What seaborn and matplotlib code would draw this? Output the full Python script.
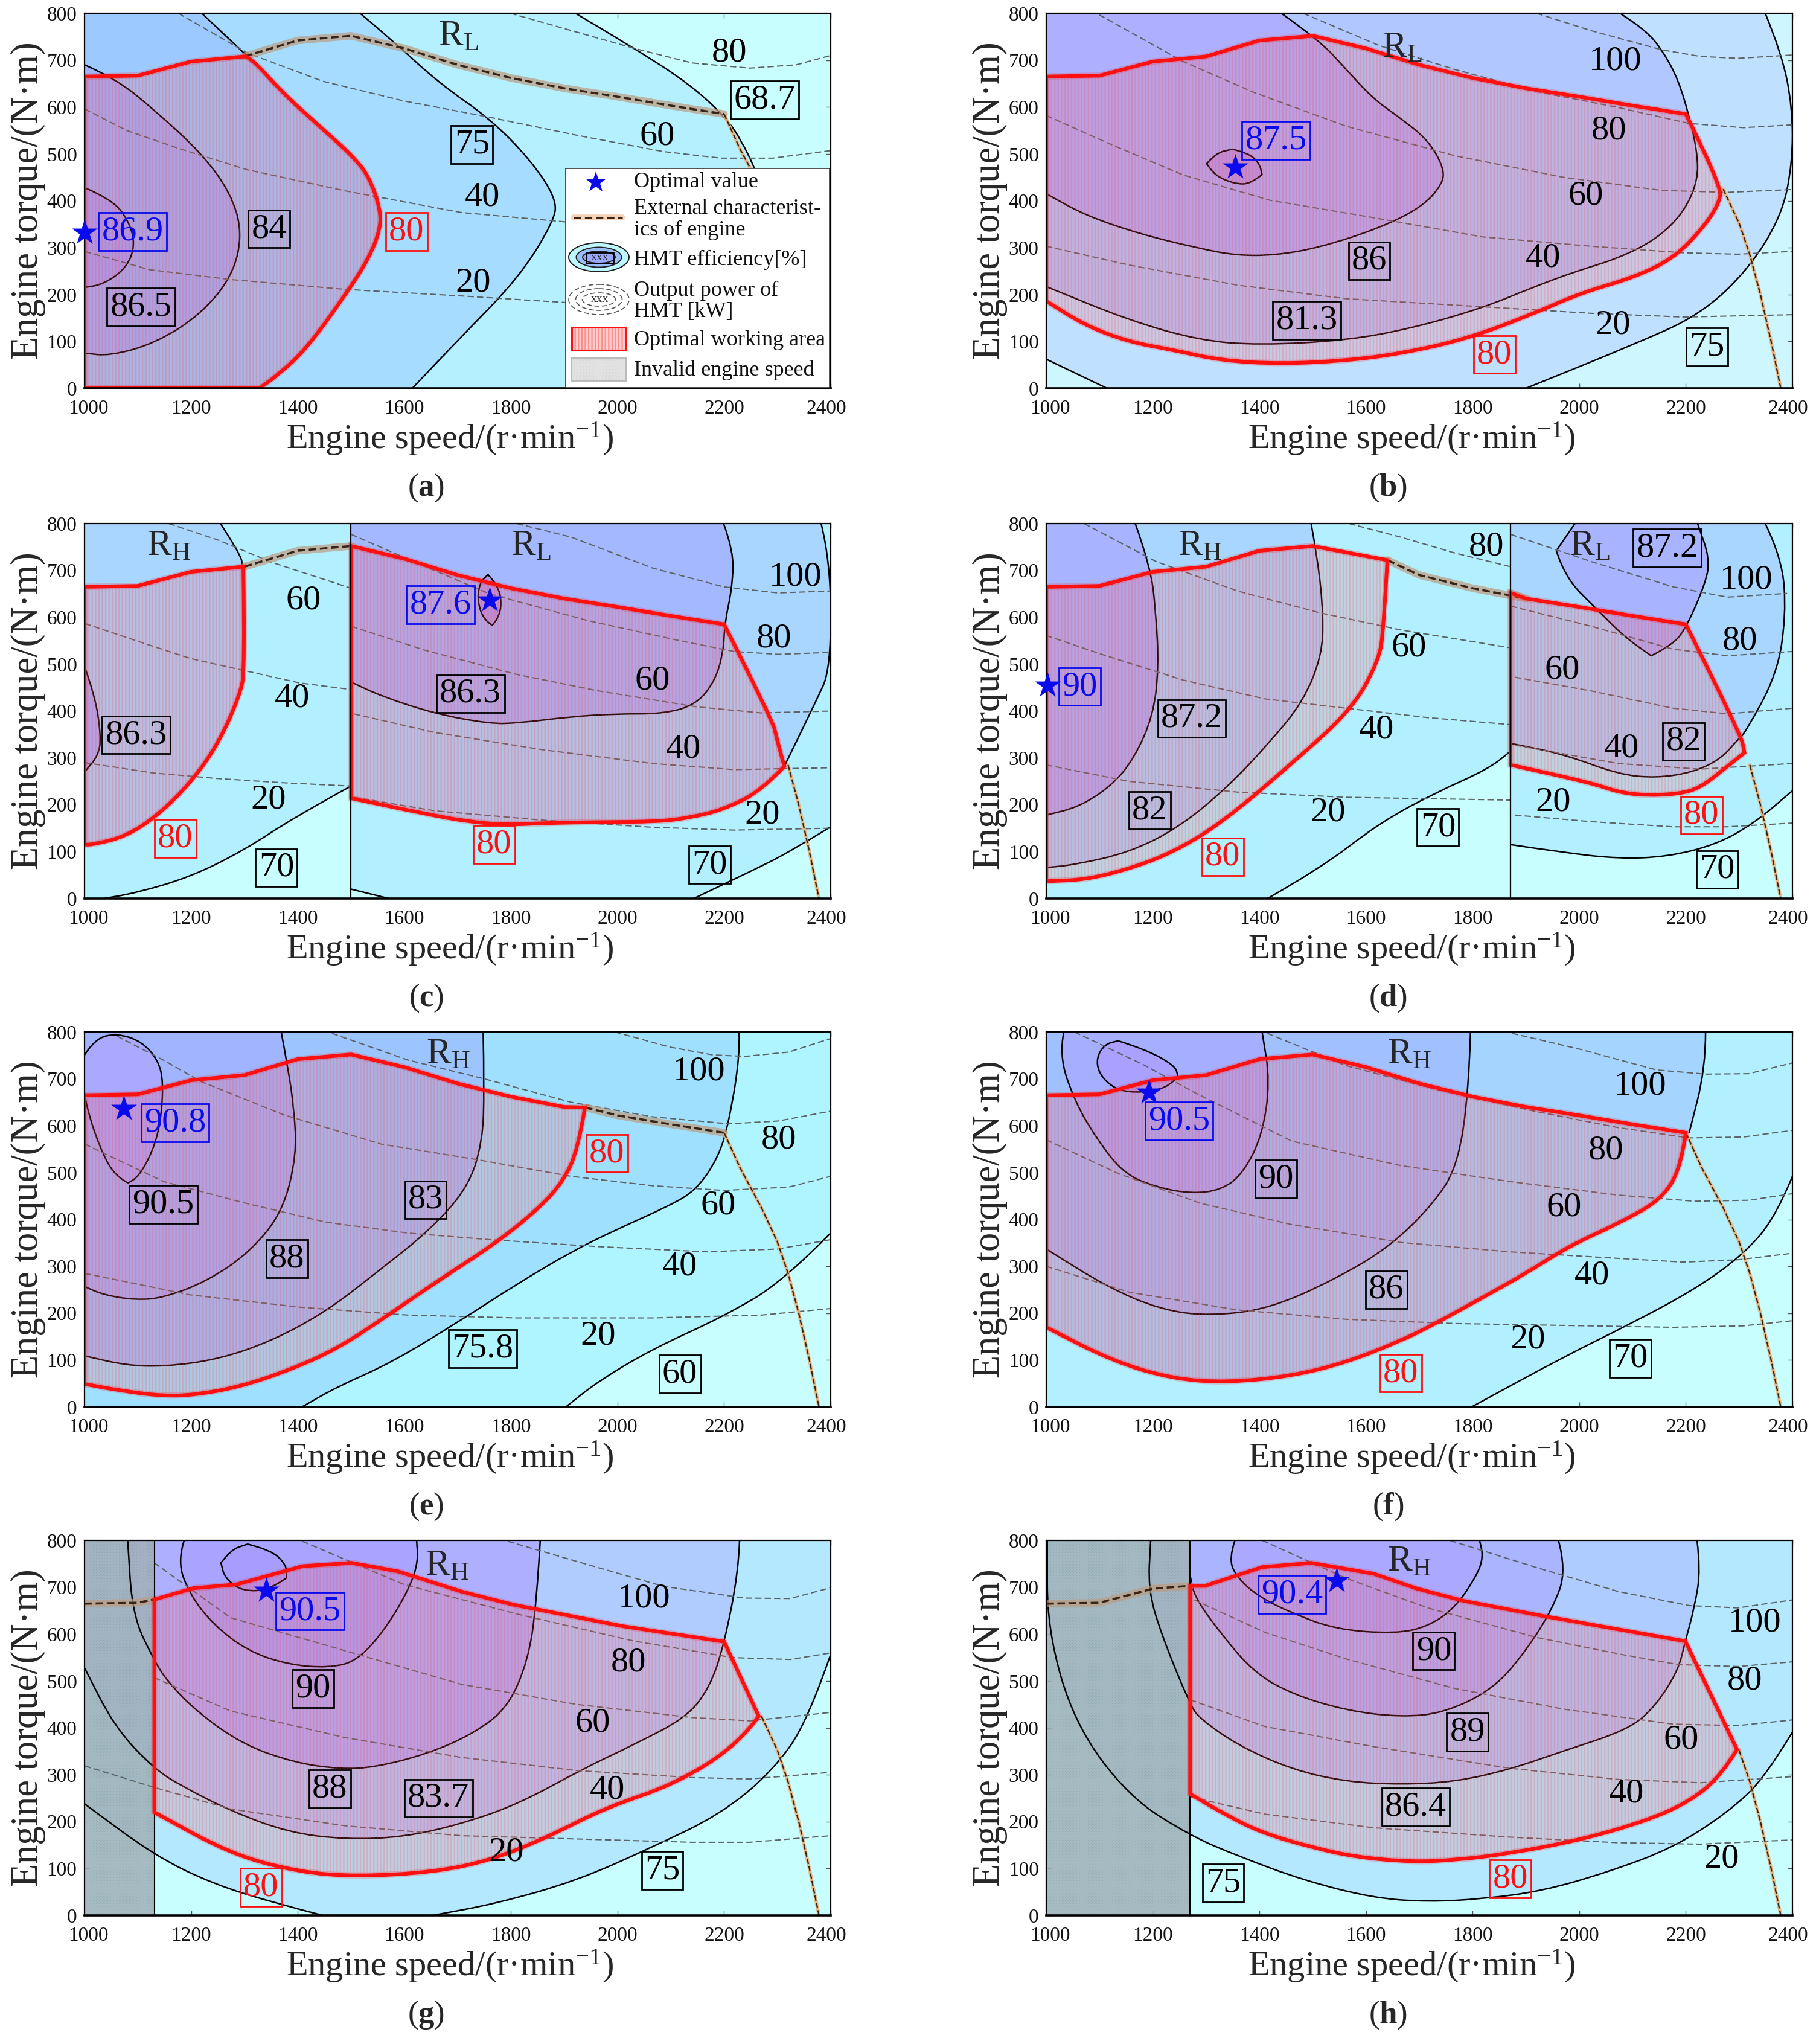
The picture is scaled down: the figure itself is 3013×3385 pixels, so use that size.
import math

import matplotlib
matplotlib.use("Agg")
import matplotlib.pyplot as plt
import matplotlib.transforms as mtrans
from matplotlib.patches import Polygon, Ellipse, Rectangle, PathPatch
from matplotlib.path import Path
import seaborn as sns

# tick labels
X_TICKS = [1000, 1200, 1400, 1600, 1800, 2000, 2200, 2400]
Y_TICKS = [0, 100, 200, 300, 400, 500, 600, 700, 800]

# external characteristic of engine (rpm, N.m)
EXT = [(1000, 665), (1100, 667), (1200, 697), (1300, 708), (1400, 742), (1500, 752), (1600, 725),
       (1700, 690), (1800, 662), (1900, 640), (2000, 622), (2100, 603), (2200, 585), (2230, 510),
       (2270, 425), (2300, 352), (2320, 285), (2340, 200), (2360, 100), (2378, 0)]

# ---- panel a
A_EFF_687 = [(1921, 800), (2037, 722), (2140, 645), (2205, 575), (2232, 529), (2259, 466), (2300, 350), (2330, 200)]
A_EFF_75 = [(1517, 800), (1577, 743), (1664, 652), (1761, 575), (1837, 487), (1886, 403), (1880, 355), (1815, 236), (1707, 110), (1615, 0)]
A_EFF_80 = [(1220, 800), (1306, 708)]
A_RED_LOW = [(1310, 708), (1371, 631), (1436, 564), (1501, 498), (1534, 452), (1555, 382), (1555, 340), (1534, 278), (1490, 200), (1415, 82), (1360, 26), (1328, 0), (1000, 0)]
A_EFF_84 = [(1000, 690), (1057, 662), (1133, 592), (1220, 501), (1274, 417), (1296, 333), (1279, 243), (1220, 159), (1133, 96), (1047, 69), (1000, 75)]
A_EFF_865 = [(1000, 428), (1052, 403), (1084, 355), (1095, 305), (1079, 257), (1036, 222), (1000, 215)]
A_P80 = [(1799, 800), (1923, 760), (2032, 725), (2140, 694), (2248, 683), (2335, 690), (2400, 710)]
A_P60 = [(1176, 800), (1306, 715), (1447, 655), (1599, 613), (1761, 578), (1923, 540), (2086, 505), (2194, 491), (2291, 491), (2400, 507)]
A_P40 = [(1000, 596), (1079, 550), (1176, 512), (1306, 466), (1490, 421), (1707, 375), (1902, 355), (1950, 350)]
A_P20 = [(1000, 292), (1122, 253), (1274, 232), (1490, 211), (1707, 197), (1902, 183), (1950, 180)]
A_LABELS = [("R", "L", 1701, 750), ("plain", "80", 2210, 715), ("box", "68.7", 2276, 615), ("box", "75", 1727, 520),
            ("plain", "60", 2075, 538), ("plain", "40", 1747, 408), ("blue", "86.9", 1090, 334), ("box", "84", 1346, 340),
            ("red", "80", 1604, 334), ("plain", "20", 1729, 225), ("box", "86.5", 1106, 173)]
A_STAR = [(1000, 332)]

# ---- panel b
B_EFF_75 = [(2349, 800), (2380, 714), (2400, 599), (2400, 480), (2380, 369), (2318, 254), (2227, 157), (2104, 94), (1900, 0), (1114, 0), (1000, 62)]
B_EFF_813 = [(2079, 798), (2125, 765), (2160, 714), (2186, 657), (2206, 582), (2221, 507), (2223, 444), (2196, 375), (2145, 318), (2073, 277), (1992, 249), (1910, 214), (1818, 171), (1686, 128), (1563, 102), (1400, 92), (1288, 102), (1155, 145), (1000, 217)]
B_EFF_86 = [(1441, 800), (1512, 743), (1563, 680), (1614, 617), (1665, 576), (1716, 530), (1745, 473), (1745, 438), (1706, 387), (1624, 341), (1512, 300), (1431, 284), (1359, 283), (1288, 298), (1176, 329), (1073, 369), (1000, 415)]
B_EFF_875 = [(1349, 510), (1380, 502), (1400, 479), (1405, 456), (1384, 436), (1354, 436), (1318, 453), (1301, 479), (1318, 502), (1349, 510)]
B_RED_LOW = [(2267, 432), (2262, 392), (2227, 335), (2176, 277), (2104, 237), (2002, 203), (1910, 157), (1788, 105), (1665, 74), (1563, 59), (1441, 52), (1329, 59), (1237, 82), (1155, 99), (1073, 134), (1000, 186)]
B_P100 = [(1920, 800), (2022, 763), (2155, 722), (2227, 708), (2298, 704), (2400, 711)]
B_P80 = [(1482, 800), (1625, 731), (1767, 680), (1920, 633), (2073, 599), (2206, 565), (2308, 556), (2400, 562)]
B_P60 = [(1099, 797), (1257, 697), (1390, 631), (1563, 559), (1767, 496), (1971, 450), (2155, 422), (2278, 418), (2400, 424)]
B_P40 = [(1000, 582), (1114, 524), (1257, 455), (1420, 401), (1614, 364), (1818, 323), (2022, 303), (2196, 289), (2298, 286), (2400, 292)]
B_P20 = [(1000, 303), (1155, 263), (1359, 220), (1563, 191), (1818, 174), (2022, 160), (2196, 152), (2400, 157)]
B_LABELS = [("blue", "87.5", 1431, 529), ("R", "L", 1668, 725), ("plain", "100", 2068, 697), ("plain", "80", 2056, 550),
            ("plain", "60", 2012, 410), ("plain", "40", 1932, 277), ("box", "86", 1606, 272), ("box", "81.3", 1489, 145),
            ("red", "80", 1841, 72), ("plain", "20", 2063, 134), ("box", "75", 2240, 88)]
B_STAR = [(1354, 471)]

# ---- panel c
C_L_70 = [(1500, 240), (1393, 173), (1301, 104), (1199, 46), (1097, 12), (1036, 0)]
C_L_80 = [(1255, 800), (1291, 737), (1298, 708), (1301, 489), (1291, 432), (1250, 328), (1199, 247), (1138, 178), (1077, 132), (1015, 115), (1000, 115)]
C_L_863 = [(1000, 495), (1020, 432), (1031, 345), (1026, 305), (1000, 270)]
C_R_70A = [(2400, 153), (2321, 98), (2250, 58), (2143, 0)]
C_R_70B = [(1500, 20), (1571, 0)]
C_R_80 = [(2382, 800), (2400, 719), (2400, 489), (2372, 420), (2313, 282)]
C_R_863 = [(2199, 800), (2218, 742), (2215, 662), (2201, 587), (2199, 530), (2184, 466), (2148, 414), (2087, 394), (1995, 394), (1913, 388), (1811, 374), (1760, 373), (1658, 394), (1556, 432), (1500, 462)]
C_R_876 = [(1757, 691), (1776, 668), (1783, 628), (1776, 599), (1765, 583), (1750, 593), (1737, 633), (1741, 673), (1757, 691)]
C_RED_LOW = [(2291, 380), (2299, 340), (2313, 282), (2270, 230), (2199, 190), (2138, 173), (2077, 164), (1964, 163), (1862, 161), (1791, 157), (1719, 164), (1638, 181), (1500, 214)]
C_P_L60 = [(1158, 800), (1250, 765), (1352, 717), (1500, 662)]
C_P_L40 = [(1000, 587), (1097, 550), (1199, 512), (1301, 486), (1403, 460), (1500, 446)]
C_P_L20 = [(1000, 290), (1128, 268), (1250, 256), (1372, 247), (1500, 240)]
C_P_R100 = [(1811, 800), (1913, 771), (2066, 705), (2199, 665), (2301, 652), (2400, 656)]
C_P_R80 = [(1500, 777), (1617, 719), (1760, 650), (1944, 593), (2117, 550), (2219, 527), (2301, 521), (2400, 525)]
C_P_R60 = [(1500, 581), (1638, 530), (1811, 478), (1964, 443), (2148, 409), (2270, 396), (2400, 400)]
C_P_R40 = [(1505, 394), (1658, 354), (1862, 317), (2066, 288), (2219, 275), (2400, 279)]
C_P_R20 = [(1505, 216), (1658, 187), (1862, 167), (2066, 152), (2219, 146), (2400, 150)]
C_LABELS = [("R", "H", 1158, 751), ("R", "L", 1837, 751), ("plain", "60", 1411, 636), ("plain", "40", 1390, 427), ("plain", "20", 1345, 210),
            ("box", "86.3", 1097, 349), ("red", "80", 1170, 128), ("box", "70", 1360, 66), ("blue", "87.6", 1668, 627),
            ("plain", "100", 2334, 686), ("plain", "80", 2294, 554), ("box", "86.3", 1724, 437), ("plain", "60", 2066, 464),
            ("plain", "40", 2124, 319), ("red", "80", 1768, 115), ("box", "70", 2173, 72), ("plain", "20", 2272, 178)]
C_STAR = [(1760, 636)]

# ---- panel d
D_L_872 = [(1167, 800), (1196, 708), (1206, 604), (1211, 495), (1201, 391), (1165, 299), (1124, 242), (1063, 196), (1000, 178)]
D_L_82 = [(1497, 800), (1510, 719), (1520, 604), (1517, 518), (1482, 420), (1420, 334), (1339, 236), (1247, 150), (1155, 98), (1053, 72), (1000, 66)]
D_L_70 = [(1415, 0), (1513, 63), (1625, 161), (1727, 224), (1829, 276), (1871, 314)]
D_L_RED_LOW = [(1640, 722), (1633, 576), (1624, 507), (1573, 403), (1461, 288), (1329, 161), (1237, 98), (1155, 63), (1073, 40), (1000, 37)]
D_R_872 = [(1992, 800), (1957, 742), (1973, 685), (2034, 616), (2085, 558), (2135, 518), (2176, 541), (2202, 581), (2237, 673), (2245, 725), (2222, 800)]
D_R_82 = [(2349, 800), (2381, 725), (2388, 604), (2371, 478), (2310, 351), (2298, 340), (2267, 299), (2216, 270), (2145, 257), (2073, 265), (1971, 308), (1871, 331)]
D_R_70 = [(1871, 115), (1971, 98), (2073, 85), (2165, 89), (2257, 115), (2329, 161), (2400, 230)]
D_R_RED_LOW = [(2303, 351), (2310, 311), (2278, 282), (2227, 236), (2186, 223), (2124, 220), (2073, 227), (2022, 247), (1871, 285)]
D_P_L80 = [(1568, 800), (1665, 771), (1767, 737), (1871, 708)]
D_P_L60 = [(1071, 800), (1206, 719), (1359, 656), (1512, 610), (1665, 573), (1871, 535)]
D_P_L40 = [(1000, 561), (1104, 521), (1257, 466), (1410, 426), (1563, 406), (1716, 386), (1871, 371)]
D_P_L20 = [(1000, 285), (1155, 250), (1359, 227), (1563, 216), (1871, 210)]
D_P_R100 = [(1871, 777), (2022, 719), (2176, 665), (2278, 643), (2390, 651)]
D_P_R80 = [(1871, 624), (2022, 581), (2176, 532), (2278, 518), (2400, 527)]
D_P_R60 = [(1880, 472), (2022, 443), (2176, 406), (2278, 394), (2400, 406)]
D_P_R40 = [(1880, 327), (2073, 288), (2227, 276), (2400, 288)]
D_P_R20 = [(1880, 178), (2022, 164), (2176, 153), (2278, 153), (2400, 161)]
D_LABELS = [("blue", "90", 1063, 452), ("R", "H", 1288, 751), ("box", "87.2", 1273, 384), ("box", "82", 1194, 188), ("red", "80", 1331, 89),
            ("plain", "60", 1680, 535), ("plain", "40", 1620, 360), ("plain", "20", 1528, 184), ("box", "70", 1735, 152), ("plain", "80", 1826, 750),
            ("R", "L", 2020, 751), ("box", "87.2", 2165, 748), ("plain", "100", 2313, 679), ("plain", "80", 2301, 550), ("plain", "60", 1968, 487),
            ("plain", "40", 2080, 320), ("box", "82", 2196, 335), ("red", "80", 2229, 178), ("plain", "20", 1951, 206), ("box", "70", 2259, 62)]
D_STAR = [(1002, 455)]

# ---- panel e
E_EFF_908 = [(1000, 751), (1020, 786), (1061, 797), (1107, 780), (1138, 740), (1148, 694), (1143, 608), (1128, 546), (1102, 492), (1082, 478), (1056, 492), (1026, 561), (1005, 636), (1000, 670)]
E_EFF_905 = [(1369, 800), (1382, 722), (1393, 636), (1398, 538), (1372, 417), (1311, 331), (1230, 268), (1148, 233), (1097, 228), (1036, 239), (1000, 257)]
E_EFF_83 = [(1748, 800), (1750, 681), (1747, 567), (1720, 469), (1648, 377), (1546, 285), (1454, 204), (1352, 141), (1250, 101), (1148, 86), (1077, 89), (1000, 109)]
E_EFF_758 = [(2228, 800), (2230, 751), (2209, 607), (2189, 532), (2148, 463), (2097, 429), (1995, 377), (1913, 331), (1811, 262), (1709, 187), (1577, 95), (1474, 43), (1408, 0)]
E_EFF_60 = [(2400, 371), (2311, 268), (2199, 193), (2066, 124), (1964, 55), (1903, 0)]
E_RED_LOW = [(1926, 550), (1898, 481), (1852, 423), (1770, 348), (1668, 273), (1566, 193), (1474, 124), (1383, 78), (1291, 43), (1209, 26), (1148, 23), (1066, 35), (1000, 49)]
E_P100 = [(1995, 800), (2097, 768), (2179, 751), (2240, 748), (2321, 757), (2400, 786)]
E_P80 = [(1464, 797), (1607, 740), (1750, 700), (1913, 650), (2066, 619), (2209, 604), (2301, 610), (2400, 631)]
E_P60 = [(1061, 791), (1148, 740), (1219, 694), (1372, 624), (1556, 561), (1740, 527), (1913, 492), (2066, 472), (2199, 462), (2321, 469), (2400, 492)]
E_P40 = [(1000, 561), (1148, 481), (1301, 435), (1454, 394), (1607, 371), (1760, 357), (1964, 342), (2168, 331), (2301, 337), (2400, 357)]
E_P20 = [(1000, 285), (1199, 239), (1403, 213), (1607, 196), (1811, 190), (2066, 190), (2270, 196), (2400, 210)]
E_LABELS = [("blue", "90.8", 1170, 606), ("box", "90.5", 1148, 432), ("R", "H", 1682, 751), ("plain", "100", 2153, 715), ("plain", "80", 2303, 570),
            ("red", "80", 1980, 541), ("box", "83", 1640, 442), ("box", "88", 1380, 316), ("plain", "60", 2189, 430), ("plain", "40", 2117, 299),
            ("box", "75.8", 1747, 124), ("plain", "20", 1964, 152), ("box", "60", 2117, 70)]
E_STAR = [(1074, 637)]

# ---- panel f
F_EFF_905 = [(1135, 781), (1186, 763), (1242, 728), (1247, 705), (1232, 685), (1196, 673), (1155, 671), (1124, 682), (1099, 711), (1094, 745), (1110, 774), (1135, 781)]
F_EFF_90 = [(1033, 800), (1024, 751), (1053, 653), (1094, 573), (1145, 498), (1206, 469), (1272, 455), (1329, 463), (1369, 498), (1405, 578), (1420, 694), (1405, 800)]
F_EFF_86 = [(1796, 800), (1793, 676), (1772, 515), (1727, 434), (1645, 342), (1543, 273), (1420, 210), (1308, 194), (1216, 207), (1114, 256), (1000, 337)]
F_EFF_80 = [(2237, 800), (2237, 722), (2206, 584)]
F_EFF_70 = [(2400, 492), (2369, 406), (2308, 325), (2216, 250), (2094, 176), (1971, 107), (1798, 0)]
F_RED_LOW = [(2191, 512), (2155, 443), (2073, 391), (1982, 344), (1900, 285), (1818, 233), (1727, 176), (1665, 141), (1563, 95), (1461, 66), (1339, 52), (1237, 60), (1124, 98), (1000, 170)]
F_P100 = [(1874, 797), (2002, 763), (2145, 719), (2237, 710), (2318, 711), (2400, 734)]
F_P80 = [(1415, 797), (1563, 728), (1737, 676), (1920, 630), (2073, 596), (2206, 574), (2308, 576), (2400, 590)]
F_P60 = [(1053, 800), (1186, 728), (1278, 671), (1461, 567), (1665, 515), (1869, 481), (2073, 452), (2216, 439), (2318, 441), (2400, 455)]
F_P40 = [(1000, 570), (1135, 498), (1288, 435), (1461, 389), (1665, 351), (1869, 331), (2073, 317), (2196, 309), (2298, 314), (2400, 328)]
F_P20 = [(1000, 300), (1155, 245), (1359, 207), (1563, 187), (1767, 178), (2022, 173), (2176, 170), (2308, 173), (2400, 184)]
F_LABELS = [("blue", "90.5", 1249, 610), ("R", "H", 1681, 751), ("plain", "100", 2114, 685), ("plain", "80", 2050, 547), ("box", "90", 1431, 486),
            ("plain", "60", 1971, 426), ("plain", "40", 2024, 280), ("box", "86", 1638, 250), ("plain", "20", 1903, 144), ("box", "70", 2096, 104),
            ("red", "80", 1665, 72)]
F_STAR = [(1193, 671)]

# ---- panel g
G_EFF_905 = [(1306, 792), (1349, 780), (1379, 748), (1379, 720), (1349, 695), (1296, 691), (1263, 720), (1256, 752), (1274, 780), (1306, 792)]
G_EFF_90 = [(1187, 800), (1174, 755), (1198, 684), (1241, 621), (1306, 564), (1382, 535), (1458, 528), (1512, 543), (1566, 613), (1610, 699), (1626, 755), (1623, 800)]
G_EFF_88 = [(1855, 800), (1848, 663), (1832, 543), (1794, 443), (1729, 387), (1642, 344), (1545, 316), (1480, 312), (1393, 326), (1296, 365), (1209, 436), (1155, 500), (1131, 543), (1090, 640), (1081, 800)]
G_EFF_837 = [(2229, 800), (2227, 734), (2200, 578), (2173, 486), (2129, 422), (2032, 365), (1934, 312), (1815, 238), (1707, 195), (1599, 167), (1490, 162), (1382, 177), (1274, 223), (1187, 273), (1131, 312), (1057, 401), (1000, 528)]
G_EFF_75 = [(2400, 557), (2357, 415), (2292, 309), (2194, 216), (2064, 145), (1924, 74), (1772, 25), (1653, 0), (1447, 0), (1361, 25), (1241, 67), (1131, 128), (1000, 238)]
G_RED = [(1131, 674), (1204, 698), (1285, 706), (1409, 745), (1501, 752), (1588, 734), (1707, 691), (1804, 663), (2010, 617), (2200, 584), (2265, 425), (2227, 365), (2108, 280), (1978, 230), (1869, 167), (1761, 117), (1653, 92), (1512, 83), (1404, 92), (1274, 131), (1131, 220)]
G_P100 = [(1794, 798), (1924, 755), (2086, 702), (2238, 677), (2324, 676), (2400, 699)]
G_P80 = [(1409, 798), (1599, 706), (1815, 642), (2032, 585), (2216, 550), (2324, 546), (2400, 560)]
G_P60 = [(1131, 752), (1274, 635), (1512, 557), (1707, 493), (1924, 450), (2140, 422), (2248, 415), (2400, 433)]
G_P40 = [(1131, 507), (1274, 436), (1490, 379), (1707, 337), (1924, 309), (2140, 294), (2248, 291), (2400, 305)]
G_P20 = [(1000, 319), (1131, 273), (1274, 227), (1490, 191), (1707, 170), (1924, 163), (2140, 156), (2248, 156), (2400, 170)]
G_LABELS = [("blue", "90.5", 1423, 649), ("R", "H", 1680, 745), ("plain", "100", 2050, 676), ("plain", "80", 2021, 539), ("box", "90", 1429, 484),
            ("plain", "60", 1953, 410), ("box", "88", 1460, 270), ("box", "83.7", 1664, 250), ("plain", "40", 1981, 267), ("plain", "20", 1791, 135),
            ("box", "75", 2084, 96), ("red", "80", 1331, 60)]
G_STAR = [(1341, 693)]

# ---- panel h
H_EFF_904 = [(1354, 800), (1342, 760), (1359, 719), (1400, 679), (1461, 645), (1543, 610), (1655, 601), (1716, 616), (1767, 656), (1808, 725), (1820, 765), (1813, 800)]
H_EFF_90 = [(1961, 800), (1976, 737), (1951, 656), (1900, 564), (1839, 483), (1747, 432), (1665, 423), (1563, 437), (1461, 472), (1390, 518), (1329, 599), (1278, 679), (1270, 725)]
H_EFF_89 = [(2221, 800), (2228, 737), (2216, 656), (2198, 581), (2186, 524), (2145, 449), (2094, 397), (1971, 351), (1869, 311), (1767, 285), (1665, 279), (1563, 285), (1461, 311), (1359, 363), (1288, 420), (1270, 449), (1216, 599), (1191, 696), (1196, 800)]
H_EFF_75 = [(2400, 391), (2349, 294), (2278, 219), (2176, 144), (2053, 92), (1931, 52), (1818, 35), (1716, 29), (1614, 37), (1482, 75), (1359, 127), (1270, 170), (1155, 253), (1053, 409), (1002, 610), (1002, 800)]
H_RED = [(1270, 703), (1298, 703), (1405, 743), (1497, 752), (1614, 729), (1696, 697), (1783, 671), (1931, 639), (2199, 585), (2296, 354), (2267, 299), (2206, 242), (2124, 201), (2002, 161), (1869, 132), (1767, 118), (1686, 114), (1584, 124), (1502, 144), (1405, 176), (1339, 213), (1270, 259)]
H_P100 = [(1757, 800), (1920, 742), (2073, 691), (2206, 661), (2298, 656), (2400, 673)]
H_P80 = [(1405, 800), (1563, 719), (1716, 656), (1920, 593), (2073, 558), (2186, 535), (2298, 531), (2400, 541)]
H_P60 = [(1278, 673), (1410, 604), (1563, 547), (1767, 484), (1971, 440), (2176, 408), (2298, 405), (2400, 417)]
H_P40 = [(1270, 460), (1410, 403), (1614, 360), (1869, 314), (2073, 290), (2227, 283), (2400, 296)]
H_P20 = [(1270, 253), (1410, 216), (1614, 187), (1869, 167), (2073, 155), (2227, 152), (2400, 161)]
H_LABELS = [("blue", "90.4", 1461, 685), ("R", "H", 1681, 754), ("box", "90", 1727, 564), ("plain", "100", 2329, 624), ("plain", "80", 2311, 500),
            ("box", "89", 1790, 391), ("plain", "60", 2191, 374), ("box", "86.4", 1693, 231), ("plain", "40", 2089, 259), ("plain", "20", 2267, 121),
            ("box", "75", 1332, 69), ("red", "80", 1871, 78)]
H_STAR = [(1545, 714)]

W, H = 3013, 3385
CYAN = "#C9FEFF"
RED = "#FF1010"
BLUE = "#0A0AEE"
SERIF = "Liberation Serif"

# the engine curve really has kinks, keep them sharp on the red outline
SHARP = set(EXT[:13]) | set(G_RED[:9]) | set(H_RED[:8])

sns.set_theme(style="ticks")
plt.rcParams["font.family"] = [SERIF, "DejaVu Serif"]
plt.rcParams["mathtext.fontset"] = "custom"
plt.rcParams["mathtext.rm"] = SERIF
plt.rcParams["mathtext.bf"] = SERIF + ":bold"
plt.rcParams["mathtext.it"] = SERIF + ":italic"
plt.rcParams["hatch.linewidth"] = 1.6


def ext_between(lo, hi):
    return [p for p in EXT if lo <= p[0] <= hi]


def is_corner(a, b, c):
    if b[1] == 0 or b in SHARP:
        return True
    # turn angle at b, in roughly pixel proportions
    t1 = math.atan2(b[1] - a[1], (b[0] - a[0]) * 1.14)
    t2 = math.atan2(c[1] - b[1], (c[0] - b[0]) * 1.14)
    turn = abs(t2 - t1)
    return min(turn, 2 * math.pi - turn) > math.radians(48)


def rounded(pts, closure=(), close=False):
    # path through the read points, drawn with curved joins except at real corners
    verts, codes = [pts[0]], [Path.MOVETO]
    for i in range(1, len(pts) - 1):
        a, b, c = pts[i - 1], pts[i], pts[i + 1]
        if is_corner(a, b, c):
            verts.append(b)
            codes.append(Path.LINETO)
        else:
            verts += [b, ((b[0] + c[0]) / 2, (b[1] + c[1]) / 2)]
            codes += [Path.CURVE3, Path.CURVE3]
    if len(pts) > 1:
        verts.append(pts[-1])
        codes.append(Path.LINETO)
    for p in closure:
        verts.append(p)
        codes.append(Path.LINETO)
    if close:
        verts.append(pts[0])
        codes.append(Path.CLOSEPOLY)
    return Path(verts, codes)


def line(ax, pts, color="black", lw=1.8, z=3, **kw):
    sns.lineplot(x=[p[0] for p in pts], y=[p[1] for p in pts], color=color, linewidth=lw,
                 sort=False, estimator=None, errorbar=None, legend=False, ax=ax, zorder=z, **kw)


def band(ax, curve, closure, color, outline=True):
    if curve:
        ax.add_patch(PathPatch(rounded(list(curve), closure, True), fc=color, ec="none", lw=0, zorder=1))
        if outline:
            ax.add_patch(PathPatch(rounded(list(curve)), fc="none", ec="black", lw=1.8, zorder=3))
    else:
        ax.add_patch(Polygon(list(closure), closed=True, fc=color, ec="none", lw=0, zorder=1))


def power(ax, curves):
    for c in curves:
        line(ax, c, color="#5c6466", lw=1.5, z=3, linestyle=(0, (5, 2.5)))


def external(ax, pts, tail=False, z=3):
    if tail:
        line(ax, pts, color="#E8B27C", lw=4, z=z, alpha=0.9)
        line(ax, pts, color="#3A2415", lw=1.6, z=z + 0.1, linestyle=(0, (4, 1.6)))
    else:
        line(ax, pts, color="#BC9C80", lw=9, z=z, alpha=0.7)
        line(ax, pts, color="#3A2415", lw=2.6, z=z + 0.1, linestyle=(0, (3.5, 1.6)))


def working(ax, pts):
    ax.add_patch(PathPatch(rounded(pts, close=True), fc=(1, 0.3, 0.3, 0.17), ec=(1, 0.25, 0.35, 0.2),
                           hatch="|||", lw=0, zorder=4))
    ax.add_patch(PathPatch(rounded(pts, close=True), fc="none", ec=(1, 0.1, 0.1, 0.22), lw=7.5, zorder=5))
    ax.add_patch(PathPatch(rounded(pts, close=True), fc="none", ec=RED, lw=4.4, zorder=6))


def invalid(ax, x_hi):
    ax.add_patch(Rectangle((1000, 0), x_hi - 1000, 800, facecolor=(0.52, 0.6, 0.63, 0.82),
                           edgecolor=(1, 1, 1, 0.2), hatch="xxxxxxx", lw=0, zorder=2))
    ax.axvline(x_hi, color="black", lw=1.5, zorder=5)


def labels(ax, items, star):
    for kind, txt, x, y in items:
        if kind == "R":
            ax.text(x, y, "R$_{\\mathrm{%s}}$" % txt, fontsize=44, ha="center", va="center", zorder=8)
            continue
        col = {"blue": BLUE, "red": RED}.get(kind, "black")
        box = None
        if kind != "plain":
            box = dict(boxstyle="square,pad=0.09", fc="none", ec=col, lw=2)
        ax.text(x, y, txt, fontsize=42, color=col, ha="center", va="center", bbox=box, zorder=8)
    sns.scatterplot(x=[s[0] for s in star], y=[s[1] for s in star], marker="*", s=1050, color=BLUE,
                    linewidth=0, clip_on=False, legend=False, ax=ax, zorder=9)


def make_axes(px_left, px_top):
    ax = fig.add_axes([px_left / W, 1 - (px_top + 621) / H, 1236 / W, 621 / H])
    ax.set_facecolor(CYAN)
    return ax


def finish(ax, letter):
    ax.set_xlim(1000, 2400)
    ax.set_ylim(0, 800)
    ax.set_xticks(X_TICKS)
    ax.set_yticks(Y_TICKS)
    ax.tick_params(direction="in", top=True, right=True, length=6, width=1, color="#555555",
                   labelsize=24, pad=9, labelcolor="#111111")
    ax.tick_params(axis="x", pad=13)
    ax.set_xlabel("Engine speed/(r·min$^{-1}$)", fontsize=42, va="center")
    ax.xaxis.set_label_coords(0.49, -84 / 621)
    ax.set_ylabel("Engine torque/(N·m)", fontsize=45, va="center")
    ax.yaxis.set_label_coords(-93 / 1236, 0.5)
    ax.text(0.458, -165 / 621, "($\\mathbf{%s}$)" % letter, transform=ax.transAxes, fontsize=38, ha="center", va="center")
    for name, sp in ax.spines.items():
        sp.set_visible(True)
        sp.set_color("black")
        sp.set_linewidth(2.6 if name == "bottom" else 1.6)
        sp.set_zorder(7)
    first = ax.get_xticklabels()[0]
    last = ax.get_xticklabels()[-1]
    first.set_transform(first.get_transform() + mtrans.ScaledTranslation(0.06, 0, fig.dpi_scale_trans))
    last.set_transform(last.get_transform() + mtrans.ScaledTranslation(-0.07, 0, fig.dpi_scale_trans))


def draw_legend():
    lg = fig.add_axes([937 / W, 1 - 642 / H, 437 / W, 363 / H])
    lg.set_xlim(0, 437)
    lg.set_ylim(363, 0)
    lg.set_xticks([])
    lg.set_yticks([])
    lg.set_zorder(10)
    lg.set_facecolor("white")
    for sp in lg.spines.values():
        sp.set_linewidth(1.2)
        sp.set_color("#333333")
    lg.plot([50], [23], marker="*", ms=26, color=BLUE, mew=0)
    lg.plot([13, 94], [81, 81], color="#F4C9A8", lw=7, alpha=0.8)
    lg.plot([13, 94], [81, 81], color="#3A2415", lw=2.2, ls=(0, (4, 2)))
    for w, h, fc in [(100, 48, "#BFF7FF"), (75, 33, "#9CC0FF"), (54, 20, "#9CA8FF")]:
        lg.add_patch(Ellipse((55, 147), w, h, fc=fc, ec="#222222", lw=1.4))
    lg.add_patch(Rectangle((34, 139), 45, 18, fc="none", ec="black", lw=2))
    lg.text(56, 147.5, "xxx", fontsize=14, ha="center", va="center")
    for w, h in [(100, 50), (77, 36), (55, 22)]:
        lg.add_patch(Ellipse((55, 217), w, h, fc="none", ec="#555555", lw=1.2, ls=(0, (5, 2.5))))
    lg.text(56, 217, "xxx", fontsize=14, ha="center", va="center", zorder=5)
    lg.add_patch(Rectangle((10, 263), 90, 38, fc=(1, 0.8, 0.8), ec=(1, 0.55, 0.55), hatch="|||", lw=0))
    lg.add_patch(Rectangle((10, 263), 90, 38, fc="none", ec=RED, lw=2.2))
    lg.add_patch(Rectangle((10, 314), 90, 38, fc="#CDCDCD", ec="#E2E2E2", hatch="xxxxxxx", lw=0))
    lg.add_patch(Rectangle((10, 314), 90, 38, fc="none", ec="#BBBBBB", lw=1.5))
    rows = [("Optimal value", 23), ("External characterist-", 66), ("ics of engine", 102), ("HMT efficiency[%]", 151),
            ("Output power of", 202), ("HMT [kW]", 238), ("Optimal working area", 284), ("Invalid engine speed", 334)]
    for txt, y in rows:
        lg.text(113, y, txt, fontsize=26, ha="left", va="center", color="#111111")


fig = plt.figure(figsize=(W / 100, H / 100), dpi=100)
LEFT, RIGHT = 140, 1733
TOPS = [22, 867, 1709, 2551]

# (a)
ax = make_axes(LEFT, TOPS[0])
band(ax, A_EFF_687, [(2330, 0), (1000, 0), (1000, 800)], "#B4F0FF")
band(ax, A_EFF_75, [(1000, 0), (1000, 800)], "#A6DCFF")
band(ax, A_EFF_80, A_RED_LOW + [(1000, 800)], "#9CC9FF")
band(ax, A_EFF_84, [], "#9CB4FF")
band(ax, A_EFF_865, [], "#A0A4FF")
power(ax, [A_P80, A_P60, A_P40, A_P20])
external(ax, ext_between(1300, 2200))
external(ax, ext_between(2200, 2378), tail=True)
working(ax, ext_between(1000, 1300) + A_RED_LOW)
labels(ax, A_LABELS, A_STAR)
finish(ax, "a")
draw_legend()

# (b)
ax = make_axes(RIGHT, TOPS[0])
ax.set_facecolor("#CDF6FF")
band(ax, B_EFF_75, [(1000, 800)], "#BFE0FF")
band(ax, B_EFF_813, [(1000, 800)], "#B0C8FF")
band(ax, B_EFF_86, [(1000, 800)], "#AEB0FF")
band(ax, B_EFF_875, [], "#B49CF0")
power(ax, [B_P100, B_P80, B_P60, B_P40, B_P20])
external(ax, ext_between(2270, 2378), tail=True)
working(ax, ext_between(1000, 2200) + B_RED_LOW)
labels(ax, B_LABELS, B_STAR)
finish(ax, "b")

# (c)
ax = make_axes(LEFT, TOPS[1])
band(ax, [], [(1000, 0), (2400, 0), (2400, 800), (1000, 800)], "#B2EFFF")
band(ax, C_L_70, [(1500, 0)], CYAN)
band(ax, C_L_80, [(1000, 800)], "#A8D6FF")
band(ax, C_L_863, [], "#A4B4FF")
band(ax, C_R_70A, [(2400, 0)], CYAN)
band(ax, C_R_70B, [(1500, 0)], CYAN)
band(ax, C_R_80, C_RED_LOW[3:] + [(1500, 800)], "#A8D6FF")
band(ax, C_R_863, [(1500, 800)], "#A4B8FF")
band(ax, C_R_876, [], "#B09CF0")
power(ax, [C_P_L60, C_P_L40, C_P_L20, C_P_R100, C_P_R80, C_P_R60, C_P_R40, C_P_R20])
external(ax, ext_between(1300, 1500))
external(ax, ext_between(2320, 2378), tail=True)
ax.axvline(1500, color="black", lw=1.6, zorder=7)
working(ax, ext_between(1000, 1200) + C_L_80[2:])
working(ax, ext_between(1500, 2200) + C_RED_LOW)
labels(ax, C_LABELS, C_STAR)
finish(ax, "c")

# (d)
ax = make_axes(RIGHT, TOPS[1])
band(ax, [], [(1000, 0), (2400, 0), (2400, 800), (1000, 800)], "#B2EFFF")
band(ax, D_L_70, [(1871, 0)], CYAN)
band(ax, D_L_82, [(1000, 800)], "#A8D6FF")
band(ax, D_L_872, [(1000, 800)], "#A8B4FF")
band(ax, D_R_70, [(2400, 0), (1871, 0)], CYAN)
band(ax, D_R_82, [(1871, 800)], "#A8D6FF")
band(ax, D_R_872, [], "#A8B4FF")
power(ax, [D_P_L80, D_P_L60, D_P_L40, D_P_L20, D_P_R100, D_P_R80, D_P_R60, D_P_R40, D_P_R20])
external(ax, [(1640, 722)] + ext_between(1700, 1900) + [(1871, 652)])
external(ax, ext_between(2320, 2378), tail=True)
ax.axvline(1871, color="black", lw=1.6, zorder=7)
working(ax, ext_between(1000, 1500) + D_L_RED_LOW)
working(ax, [(1871, 652)] + ext_between(1900, 2200) + D_R_RED_LOW)
labels(ax, D_LABELS, D_STAR)
finish(ax, "d")

# (e)
ax = make_axes(LEFT, TOPS[2])
band(ax, E_EFF_60, [(1000, 0), (1000, 800), (2400, 800)], "#AEF5FF")
band(ax, E_EFF_758, [(1000, 0), (1000, 800)], "#A0E0FF")
band(ax, E_EFF_83, [(1000, 800)], "#9CC4FF")
band(ax, E_EFF_905, [(1000, 800)], "#A0B4FF")
band(ax, E_EFF_908, [], "#AAA8FF")
power(ax, [E_P100, E_P80, E_P60, E_P40, E_P20])
external(ax, [(1939, 639)] + ext_between(2000, 2200))
external(ax, ext_between(2200, 2378), tail=True)
working(ax, ext_between(1000, 1900) + [(1939, 639)] + E_RED_LOW)
labels(ax, E_LABELS, E_STAR)
finish(ax, "e")

# (f)
ax = make_axes(RIGHT, TOPS[2])
band(ax, F_EFF_70, [(1000, 0), (1000, 800), (2400, 800)], "#B2EFFF")
band(ax, F_EFF_80, F_RED_LOW + [(1000, 800)], "#A4D4FF")
band(ax, F_EFF_86, [(1000, 800)], "#A0C0FF")
band(ax, F_EFF_90, [], "#A6AEFF")
band(ax, F_EFF_905, [], "#AAA0FF")
power(ax, [F_P100, F_P80, F_P60, F_P40, F_P20])
external(ax, ext_between(2200, 2378), tail=True)
working(ax, ext_between(1000, 2200) + F_RED_LOW)
labels(ax, F_LABELS, F_STAR)
finish(ax, "f")

# (g)
ax = make_axes(LEFT, TOPS[3])
band(ax, G_EFF_75, [(1000, 800), (2400, 800)], "#B4E8FF")
band(ax, G_EFF_837, [(1000, 800)], "#B0CCFF")
band(ax, G_EFF_88, [], "#AEB0FF")
band(ax, G_EFF_90, [], "#A8A4FF")
band(ax, G_EFF_905, [], "#A89CFF")
invalid(ax, 1131)
power(ax, [G_P100, G_P80, G_P60, G_P40, G_P20])
external(ax, ext_between(2270, 2378), tail=True)
external(ax, ext_between(1000, 1100) + [(1131, 674)], z=4.5)
working(ax, G_RED)
labels(ax, G_LABELS, G_STAR)
finish(ax, "g")

# (h)
ax = make_axes(RIGHT, TOPS[3])
band(ax, H_EFF_75, [(2400, 800)], "#B4E8FF")
band(ax, H_EFF_89, [], "#AECCFF")
band(ax, H_EFF_90, [(1270, 800)], "#AAB4FF")
band(ax, H_EFF_904, [], "#ABA8FF")
invalid(ax, 1270)
power(ax, [H_P100, H_P80, H_P60, H_P40, H_P20])
external(ax, ext_between(2300, 2378), tail=True)
external(ax, ext_between(1000, 1200) + [(1270, 703)], z=4.5)
working(ax, H_RED)
labels(ax, H_LABELS, H_STAR)
finish(ax, "h")

fig.savefig("out.png", dpi=100, facecolor="white")
